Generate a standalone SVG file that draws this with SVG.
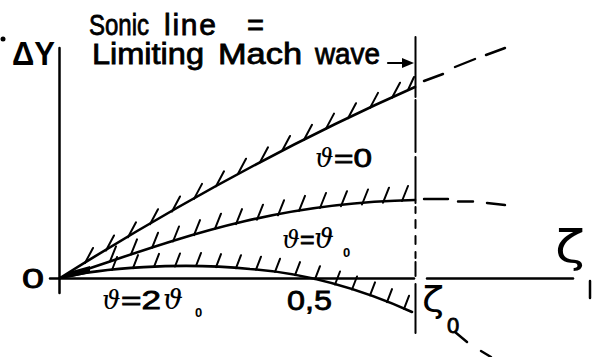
<svg xmlns="http://www.w3.org/2000/svg" width="592" height="357" viewBox="0 0 592 357">
<style>
.t{font-family:"Liberation Sans",Arial,sans-serif;fill:#000;stroke:#000;stroke-width:0.8}
.b{font-family:"Liberation Sans",Arial,sans-serif;font-weight:bold;fill:#000}
.g{font-family:"DejaVu Serif","Liberation Serif",serif;font-style:italic;fill:#000}
.z{font-family:"DejaVu Sans","Liberation Sans",sans-serif;fill:#000}
.ln{stroke:#000;fill:none;stroke-linecap:round}
.ax{stroke-width:2.5}
.cv{stroke-width:2.6}
.h{stroke-width:2}
.d{stroke-width:2.4}
</style>
<rect width="592" height="357" fill="#fff"/>
<g id="labels">
<circle cx="3" cy="39" r="2.5" fill="#000"/>
<text class="b" x="12" y="65" font-size="33" textLength="43" lengthAdjust="spacingAndGlyphs">ΔY</text>
<text class="t" x="89" y="35" font-size="30" textLength="60" lengthAdjust="spacingAndGlyphs">Sonic</text>
<text class="t" x="164" y="35" font-size="30" textLength="52">line</text>
<text class="t" x="247" y="35" font-size="29" textLength="17" lengthAdjust="spacingAndGlyphs">=</text>
<text class="t" x="92" y="64" font-size="29" textLength="112" lengthAdjust="spacingAndGlyphs">Limiting</text>
<text class="t" x="218" y="64" font-size="29" textLength="84" lengthAdjust="spacingAndGlyphs">Mach</text>
<text class="t" x="315" y="64" font-size="29" textLength="65" lengthAdjust="spacingAndGlyphs">wave</text>
<text class="t" x="22" y="288" font-size="27" textLength="22" lengthAdjust="spacingAndGlyphs">0</text>
<text class="t" x="287" y="310" font-size="28" textLength="45" lengthAdjust="spacingAndGlyphs">0,5</text>
<text x="315" y="167" font-size="26"><tspan class="g">ϑ</tspan><tspan class="t" x="334" textLength="38" lengthAdjust="spacingAndGlyphs">=0</tspan></text>
<text x="282" y="248" font-size="25"><tspan class="g">ϑ</tspan><tspan class="t" x="300">=</tspan><tspan class="g" x="314" font-size="28">ϑ</tspan></text>
<text class="b" x="343" y="257" font-size="13">0</text>
<text x="102" y="309" font-size="26"><tspan class="g">ϑ</tspan><tspan class="t" x="121" textLength="40" lengthAdjust="spacingAndGlyphs">=2</tspan><tspan class="g" x="163" font-size="28">ϑ</tspan></text>
<text class="b" x="195" y="317" font-size="13">0</text>
<text class="z" x="555" y="262" font-size="44" textLength="30" lengthAdjust="spacingAndGlyphs">ζ</text>
<text class="z" x="422" y="312" font-size="35" textLength="22" lengthAdjust="spacingAndGlyphs">ζ</text>
<text class="t" x="447" y="333" font-size="22" stroke-width="0.4">0</text>
</g>
<g id="axes">
<line class="ln ax" x1="59.5" y1="48" x2="59.5" y2="293"/>
<line class="ln ax" x1="50" y1="278.5" x2="414" y2="278.5"/>
<line class="ln ax" x1="427" y1="278.5" x2="573" y2="278.5"/>
<line class="ln ax" x1="590" y1="281" x2="590" y2="298"/>
</g>
<g id="sonic-line">
<path class="ln" stroke-width="2" d="M415.5,37V97M415.5,100V152M415.5,157V203M415.5,207V213M415.5,220V228M415.5,236V244M415.5,252V258M415.5,262V276M415.5,284V333"/>
<line class="ln" stroke-width="2.2" x1="388" y1="63" x2="405" y2="63"/>
<polygon points="402,58 414,63 402,68" fill="#000"/>
</g>
<g id="curve-nu0">
<path class="ln cv" d="M60,278 Q245,162 415,87"/>
<path class="ln h" d="M85,263l8,-15M106,250.5l8,-15M128,237.3l8,-15M150,224.2l8,-15M172,211.5l8,-15M194,198.9l8,-15M216,186.3l8,-15M238,173.7l8,-15M260,162.3l8,-15M282,151l8,-15M304,139.8l8,-15M326,128.6l8,-15M348,118.2l8,-15M370,107.9l8,-15M392,97.7l8,-15M408,90l6,-13"/>
</g>
<g id="curve-nu-nu0">
<path class="ln cv" d="M60,278 C160,246 260,203 415,200"/>
<path class="ln h" d="M110,261.4l6,-15M131,254.4l6,-15M152,247.8l6,-15M173,241.5l6,-15M194,235.1l6,-15M215,228.7l6,-15M236,224.1l6,-15M257,219.7l6,-15M278,215.3l6,-15M299,210.9l6,-15M320,208l6,-15M341,206.2l6,-15M362,204.5l6,-15M383,202.7l6,-15M402,201l6,-15"/>
</g>
<g id="curve-nu-2nu0">
<path class="ln cv" d="M60,278 C100,268 180,262 250,269 C290,272 345,282 412,312"/>
<path class="ln h" d="M112,270l5,-13M133,268.1l5,-13M154,266.9l5,-13M175,266.5l5,-13M196,266l5,-13M216,267.1l5,-13M236,268.2l5,-13M256,269.7l5,-13M275,271.8l5,-13M295,275.1l5,-13M315,279.2l5,-13M335,284.5l5,-13M352,289.5l5,-13M370,295.4l5,-13M387,302.1l5,-13M404,308.8l5,-13"/>
<polygon points="57,279 72,271 90,266 90,273 72,277" fill="#000"/>
</g>
<g id="connectors">
<path class="ln d" d="M424,81L443,74M455,67L475,59M486,55L505,48"/>
<path class="ln d" d="M424,199H448M458,201.5H473M487,203L505,205"/>
<path class="ln d" d="M455,332L467,342M481,351L491,357"/>
</g>
</svg>
